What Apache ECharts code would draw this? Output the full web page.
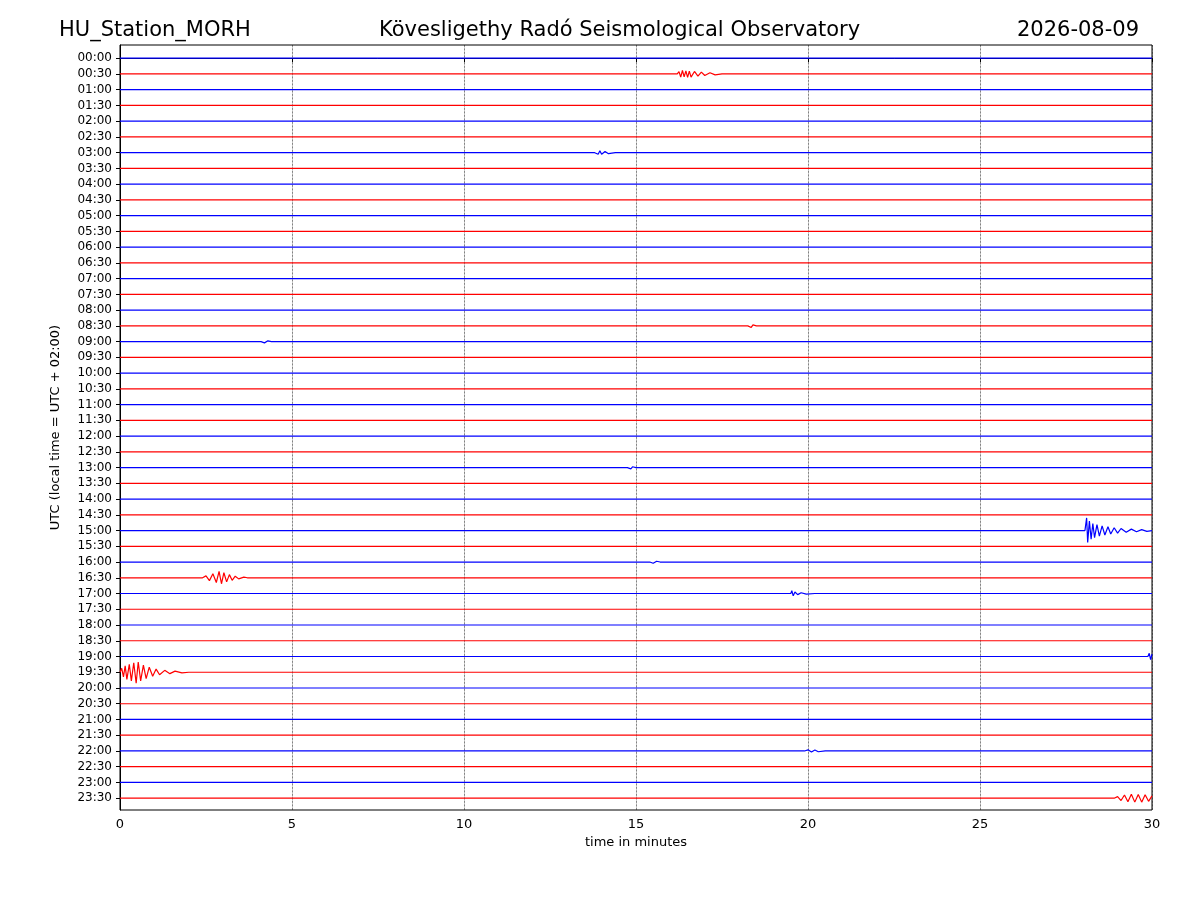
<!DOCTYPE html>
<html><head><meta charset="utf-8">
<script src="https://cdn.jsdelivr.net/npm/echarts@6/dist/echarts.min.js"></script>
<style>body{margin:0}#c{width:1200px;height:900px}</style></head>
<body><div id="c"></div>
<script>
const rowLabels = [];
for (let h = 0; h < 24; h++) { const hh = String(h).padStart(2,'0'); rowLabels.push(hh+':00', hh+':30'); }
const xTicks = [0,5,10,15,20,25,30];
// visible events: [row label, [[minute, deflection in rows], ...]]
const events = [
  ['00:30', [[16.2,0],[16.25,0.15],[16.3,-0.2],[16.35,0.22],[16.4,-0.18],[16.45,0.2],[16.5,-0.22],[16.55,0.18],[16.6,-0.2],[16.7,0.16],[16.8,-0.14],[16.9,0.12],[17.0,-0.1],[17.15,0.08],[17.3,-0.06],[17.5,0]]],
  ['03:00', [[13.8,0],[13.85,0.1],[13.9,-0.1],[13.95,0.12],[14.0,-0.1],[14.1,0.08],[14.2,-0.06],[14.4,0]]],
  ['08:30', [[18.25,0],[18.3,0.1],[18.35,-0.1],[18.4,0.06],[18.5,0]]],
  ['09:00', [[4.1,0],[4.15,0.08],[4.2,-0.08],[4.3,0.05],[4.4,0]]],
  ['13:00', [[14.75,0],[14.8,0.1],[14.85,-0.08],[14.9,0.05],[15.0,0]]],
  ['15:00', [[28.05,0],[28.1,0.8],[28.13,-0.75],[28.18,0.6],[28.23,-0.55],[28.28,0.45],[28.33,-0.45],[28.4,0.38],[28.47,-0.35],[28.55,0.3],[28.63,-0.28],[28.72,0.24],[28.8,-0.22],[28.9,0.18],[29.0,-0.16],[29.1,0.13],[29.25,-0.11],[29.4,0.09],[29.55,-0.08],[29.7,0.06],[29.85,-0.05],[30,0]]],
  ['16:00', [[15.4,0],[15.45,0.08],[15.5,-0.08],[15.6,0.05],[15.7,0]]],
  ['16:30', [[2.4,0],[2.5,0.12],[2.6,-0.18],[2.7,0.25],[2.8,-0.3],[2.88,0.4],[2.95,-0.38],[3.02,0.32],[3.1,-0.26],[3.18,0.2],[3.26,-0.16],[3.35,0.1],[3.45,-0.07],[3.6,0.04],[3.7,0]]],
  ['17:00', [[19.5,0],[19.53,0.18],[19.57,-0.15],[19.62,0.1],[19.7,-0.07],[19.8,0.05],[19.95,-0.04],[20.2,0]]],
  ['19:00', [[29.88,0],[29.92,0.2],[29.96,-0.2],[30,0.15]]],
  ['19:30', [[0,0],[0.05,0.25],[0.1,-0.3],[0.15,0.4],[0.2,-0.45],[0.27,0.5],[0.33,-0.55],[0.4,0.6],[0.47,-0.7],[0.53,0.65],[0.6,-0.55],[0.68,0.45],[0.76,-0.4],[0.85,0.32],[0.95,-0.26],[1.05,0.2],[1.15,-0.16],[1.3,0.12],[1.45,-0.09],[1.6,0.07],[1.8,-0.04],[2.0,0]]],
  ['22:00', [[19.9,0],[20.0,0.07],[20.1,-0.07],[20.2,0.06],[20.3,-0.05],[20.5,0]]],
  ['23:30', [[28.9,0],[29.0,0.1],[29.1,-0.15],[29.2,0.2],[29.3,-0.22],[29.4,0.25],[29.5,-0.25],[29.6,0.24],[29.7,-0.25],[29.8,0.22],[29.9,-0.2],[30,0.15]]]
];

const series = rowLabels.map((lab, i) => {
  const ev = events.find(e => e[0] === lab);
  let pts = [[0,0]];
  if (ev) pts = pts.filter(p => !ev[1].some(q => Math.abs(q[0]-p[0])<0.01)).concat(ev[1]);
  if (!pts.some(p=>p[0]===30)) pts.push([30,0]);
  pts.sort((a,b)=>a[0]-b[0]);
  return {
    type:'line', symbol:'none', animation:false, z:3,
    lineStyle:{color: i%2===0 ? '#0000ff' : '#ff0000', width:1.2},
    data: pts.map(p => [p[0], i - p[1]])
  };
});

const chart = echarts.init(document.getElementById('c'));
chart.setOption({
  animation:false,
  title:[
    {text:'HU_Station_MORH', left:54, top:15, textStyle:{fontFamily:'DejaVu Sans',fontSize:21,fontWeight:'normal',color:'#000'}},
    {text:'Kövesligethy Radó Seismological Observatory', left:374, top:15, textStyle:{fontFamily:'DejaVu Sans',fontSize:21,fontWeight:'normal',color:'#000'}},
    {text:'2026-08-09', right:56, top:15, textStyle:{fontFamily:'DejaVu Sans',fontSize:21,fontWeight:'normal',color:'#000'}}
  ],
  grid:{left:120, right:48, top:45, bottom:90, show:true, borderColor:'#000', borderWidth:1},
  xAxis:{type:'value', min:0, max:30, interval:5, name:'time in minutes', nameLocation:'middle', nameGap:22,
    nameTextStyle:{fontFamily:'DejaVu Sans',fontSize:13,color:'#000'},
    axisLine:{lineStyle:{color:'#000'}}, axisTick:{lineStyle:{color:'#000'},length:4},
    axisLabel:{fontFamily:'DejaVu Sans',fontSize:13,color:'#000'},
    splitLine:{show:true, lineStyle:{color:'#000',type:'dotted',width:0.7}}},
  yAxis:{type:'value', inverse:true, min:-0.84, max:47.75,
    name:'UTC (local time = UTC + 02:00)', nameLocation:'middle', nameGap:58, nameRotate:90,
    nameTextStyle:{fontFamily:'DejaVu Sans',fontSize:13,color:'#000'},
    axisLine:{show:true,lineStyle:{color:'#000'}},
    axisTick:{show:true, customValues:rowLabels.map((_,i)=>i), length:4, lineStyle:{color:'#000'}},
    axisLabel:{customValues:rowLabels.map((_,i)=>i), formatter:v=>rowLabels[Math.round(v)], fontFamily:'DejaVu Sans',fontSize:12,color:'#000'},
    splitLine:{show:false}},
  series
});
</script></body></html>
